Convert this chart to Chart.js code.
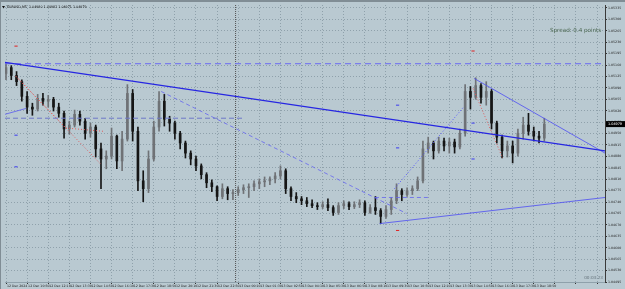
<!DOCTYPE html>
<html>
<head>
<meta charset="utf-8">
<script src="https://cdn.jsdelivr.net/npm/chart.js@4.4.1/dist/chart.umd.min.js"></script>
<style>
html, body { margin: 0; padding: 0; background: #b9c9d1; }
#wrap { width: 625px; height: 289px; }
</style>
</head>
<body>
<div id="wrap"><canvas id="chart" width="625" height="289"></canvas></div>
<script>
// EURUSD candles (20 min groups)
var opens = [1.05134, 1.05152, 1.05128, 1.05109, 1.05064, 1.05031, 1.05025, 1.05058, 1.05049, 1.05055,
    1.05031, 1.05012, 1.04964, 1.04976, 1.05009, 1.04988, 1.04951, 1.04970, 1.04903, 1.04872,
    1.04881, 1.04942, 1.04866, 1.04933, 1.05073, 1.04957, 1.04805, 1.04781, 1.04872, 1.04970,
    1.05049, 1.04994, 1.04982, 1.04951, 1.04921, 1.04890, 1.04872, 1.04851, 1.04824, 1.04799,
    1.04787, 1.04757, 1.04781, 1.04766, 1.04769, 1.04778, 1.04784, 1.04787, 1.04796, 1.04802,
    1.04805, 1.04811, 1.04820, 1.04836, 1.04781, 1.04757, 1.04750, 1.04744, 1.04735, 1.04729,
    1.04726, 1.04732, 1.04723, 1.04708, 1.04729, 1.04735, 1.04726, 1.04732, 1.04738, 1.04708,
    1.04723, 1.04714, 1.04696, 1.04717, 1.04744, 1.04775, 1.04763, 1.04775, 1.04781, 1.04805,
    1.04903, 1.04921, 1.04897, 1.04927, 1.04912, 1.04924, 1.04909, 1.04951, 1.05079, 1.05061,
    1.05097, 1.05061, 1.05079, 1.04982, 1.04939, 1.04897, 1.04912, 1.04890, 1.04951, 1.04976,
    1.04957, 1.04942, 1.04936];
var highs = [1.05167, 1.05158, 1.05140, 1.05115, 1.05079, 1.05043, 1.05070, 1.05073, 1.05067, 1.05061,
    1.05043, 1.05019, 1.04988, 1.05022, 1.05019, 1.04997, 1.04982, 1.04976, 1.04921, 1.04897,
    1.04967, 1.04945, 1.04957, 1.05100, 1.05085, 1.04970, 1.04836, 1.04897, 1.04988, 1.05079,
    1.05070, 1.05003, 1.04988, 1.04957, 1.04927, 1.04897, 1.04881, 1.04857, 1.04830, 1.04808,
    1.04790, 1.04796, 1.04787, 1.04778, 1.04787, 1.04793, 1.04796, 1.04805, 1.04811, 1.04817,
    1.04817, 1.04830, 1.04851, 1.04842, 1.04787, 1.04769, 1.04757, 1.04754, 1.04747, 1.04738,
    1.04741, 1.04750, 1.04729, 1.04738, 1.04744, 1.04741, 1.04741, 1.04747, 1.04744, 1.04732,
    1.04757, 1.04720, 1.04729, 1.04754, 1.04796, 1.04781, 1.04784, 1.04790, 1.04817, 1.04927,
    1.04939, 1.04927, 1.04939, 1.04936, 1.04936, 1.04933, 1.04964, 1.05100, 1.05094, 1.05121,
    1.05103, 1.05109, 1.05085, 1.04988, 1.04945, 1.04927, 1.04927, 1.04964, 1.05000, 1.05012,
    1.04970, 1.04957, 1.04997];
var lows = [1.05115, 1.05115, 1.05097, 1.05049, 1.05012, 1.05006, 1.05019, 1.05037, 1.05031, 1.05019,
    1.05000, 1.04936, 1.04948, 1.04970, 1.04976, 1.04933, 1.04939, 1.04878, 1.04781, 1.04842,
    1.04872, 1.04842, 1.04836, 1.04927, 1.04927, 1.04775, 1.04741, 1.04769, 1.04866, 1.04957,
    1.04973, 1.04957, 1.04933, 1.04903, 1.04875, 1.04854, 1.04836, 1.04811, 1.04784, 1.04772,
    1.04744, 1.04750, 1.04747, 1.04747, 1.04760, 1.04766, 1.04754, 1.04775, 1.04781, 1.04787,
    1.04793, 1.04799, 1.04811, 1.04766, 1.04744, 1.04738, 1.04732, 1.04726, 1.04723, 1.04717,
    1.04720, 1.04714, 1.04699, 1.04702, 1.04720, 1.04717, 1.04720, 1.04723, 1.04699, 1.04705,
    1.04702, 1.04674, 1.04690, 1.04702, 1.04735, 1.04744, 1.04757, 1.04763, 1.04775, 1.04799,
    1.04890, 1.04872, 1.04890, 1.04897, 1.04890, 1.04890, 1.04903, 1.04942, 1.05025, 1.05055,
    1.05043, 1.05037, 1.04964, 1.04921, 1.04875, 1.04878, 1.04860, 1.04881, 1.04933, 1.04945,
    1.04927, 1.04921, 1.04927];
var closes = [1.05152, 1.05128, 1.05109, 1.05064, 1.05031, 1.05025, 1.05058, 1.05049, 1.05055, 1.05031,
    1.05012, 1.04964, 1.04976, 1.05009, 1.04988, 1.04951, 1.04970, 1.04903, 1.04872, 1.04881,
    1.04942, 1.04866, 1.04933, 1.05073, 1.04957, 1.04805, 1.04781, 1.04872, 1.04970, 1.05049,
    1.04994, 1.04982, 1.04951, 1.04921, 1.04890, 1.04872, 1.04851, 1.04824, 1.04799, 1.04787,
    1.04757, 1.04781, 1.04766, 1.04769, 1.04778, 1.04784, 1.04787, 1.04796, 1.04802, 1.04805,
    1.04811, 1.04820, 1.04836, 1.04781, 1.04757, 1.04750, 1.04744, 1.04735, 1.04729, 1.04726,
    1.04732, 1.04723, 1.04708, 1.04729, 1.04735, 1.04726, 1.04732, 1.04738, 1.04708, 1.04723,
    1.04714, 1.04696, 1.04717, 1.04744, 1.04775, 1.04763, 1.04775, 1.04781, 1.04805, 1.04903,
    1.04921, 1.04897, 1.04927, 1.04912, 1.04924, 1.04909, 1.04951, 1.05079, 1.05061, 1.05097,
    1.05061, 1.05079, 1.04982, 1.04939, 1.04897, 1.04912, 1.04890, 1.04951, 1.04976, 1.04957,
    1.04942, 1.04936, 1.04979];

// axis labels
var timeLabels = ['12 Dec 2024', '12 Dec 10:50', '12 Dec 12:10', '12 Dec 13:30', '12 Dec 14:50', '12 Dec 16:10',
    '12 Dec 17:30', '12 Dec 18:50', '12 Dec 20:10', '12 Dec 21:30', '12 Dec 22:50', '13 Dec 00:10',
    '13 Dec 01:30', '13 Dec 02:50', '13 Dec 04:10', '13 Dec 05:30', '13 Dec 06:50', '13 Dec 08:10',
    '13 Dec 09:30', '13 Dec 10:50', '13 Dec 12:10', '13 Dec 13:30', '13 Dec 14:50', '13 Dec 16:10',
    '13 Dec 17:30', '13 Dec 18:50'];
var timeTickIdx = [0, 4, 8, 12, 16, 20, 24, 28, 32, 36, 40, 44, 48, 52, 56, 60, 64, 68, 72, 76, 80, 84, 88, 92, 96, 100, 104, 108, 112];
var priceTicks = [1.04495, 1.04530, 1.04565, 1.04600, 1.04635, 1.04670, 1.04705, 1.04740, 1.04775, 1.04810,
    1.04845, 1.04880, 1.04915, 1.04950, 1.04985, 1.05020, 1.05055, 1.05090, 1.05125, 1.05160,
    1.05195, 1.05230, 1.05265, 1.05300, 1.05335];

// drawn objects (bar index, price)
var thickTrend = [{x: -0.19, y: 1.05168}, {x: 113.5, y: 1.04897}];
var resistDash = [{x: -0.19, y: 1.05164}, {x: 113.5, y: 1.05164}];
var midDash = [{x: -0.19, y: 1.04997}, {x: 45.2, y: 1.04997}];
var upperThin = [{x: 88.7, y: 1.05119}, {x: 113.5, y: 1.04890}];
var lowerThin = [{x: 70.8, y: 1.04674}, {x: 113.5, y: 1.04754}];
var leftThin = [{x: -0.19, y: 1.05009}, {x: 3.8, y: 1.05027}];
var diagDash = [{x: 29.4, y: 1.05079}, {x: 75.9, y: 1.04705}];
var shortDash = [{x: 69.9, y: 1.04754}, {x: 80.2, y: 1.04754}];
var blueDotted = [{x: 73.6, y: 1.04781}, {x: 86.8, y: 1.05033}];
var redDotted1 = [{x: 1.9, y: 1.05125}, {x: 17.9, y: 1.04857}];
var redDotted2 = [{x: 1.9, y: 1.05125}, {x: 11.3, y: 1.04967}, {x: 18.4, y: 1.04957}];
var redDotted3 = [{x: 88.5, y: 1.05088}, {x: 94.1, y: 1.04875}];
var daySep = [{x: 43.5, y: 1.04495}, {x: 43.5, y: 1.05344}];
var redMarks = [{x: 1.9, y: 1.05218}, {x: 88.5, y: 1.05203}, {x: 74.2, y: 1.04653}];
var blueMarks = [{x: 1.9, y: 1.04945}, {x: 1.9, y: 1.04848}, {x: 74.2, y: 1.05037}, {x: 74.2, y: 1.04906},
    {x: 88.5, y: 1.04982}, {x: 88.5, y: 1.04872}];

var UP_COLOR = '#6f7276', DOWN_COLOR = '#161616';

function candleColor(i) {
    return closes[i] >= opens[i] ? UP_COLOR : DOWN_COLOR;
}

function lineSet(data, color, width, dash) {
    return {
        type: 'line', data: data, borderColor: color, borderWidth: width,
        borderDash: dash || [], pointRadius: 0, tension: 0, fill: false, order: 0
    };
}

function markSet(data, color) {
    return {
        type: 'line', data: data, showLine: false, pointStyle: 'line', pointRadius: 1.6,
        borderColor: color, borderWidth: 1, order: 0
    };
}

// background, frame and texts
var decorPlugin = {
    id: 'decor',
    beforeDraw: function (chart) {
        var ctx = chart.ctx;
        ctx.save();
        ctx.fillStyle = '#b9c9d1';
        ctx.fillRect(0, 0, chart.width, chart.height);
        ctx.fillStyle = '#808d95';
        ctx.fillRect(0, 0, chart.width, 2);
        ctx.fillRect(0, 0, 1, chart.height);
        ctx.restore();
    },
    afterDraw: function (chart) {
        var ctx = chart.ctx;
        var y = chart.scales.y.getPixelForValue(closes[closes.length - 1]);
        ctx.save();
        // current price box
        ctx.fillStyle = '#000';
        ctx.fillRect(606, y - 3, 19, 6);
        ctx.fillStyle = '#fff';
        ctx.font = '3.4px "DejaVu Sans"';
        ctx.textBaseline = 'middle';
        ctx.fillText(closes[closes.length - 1].toFixed(5), 608, y);
        // title
        ctx.fillStyle = '#111';
        ctx.beginPath();
        ctx.moveTo(2, 6); ctx.lineTo(5, 6); ctx.lineTo(3.5, 8.5); ctx.closePath(); ctx.fill();
        ctx.font = '3.3px "DejaVu Sans"';
        ctx.textBaseline = 'middle';
        ctx.fillText('EURUSD,M5  1.04980 1.04982 1.04971 1.04979', 7, 7);
        // spread
        ctx.fillStyle = '#4f6b55';
        ctx.font = '5.6px "DejaVu Sans"';
        ctx.fillText('Spread: 0.4 points', 550, 31);
        // timer
        ctx.fillStyle = '#66747c';
        ctx.font = '4.2px "DejaVu Sans"';
        ctx.textAlign = 'right';
        ctx.fillText('00:03:23', 603, 278);
        ctx.restore();
    }
};

var candleIdx = closes.map(function (c, i) { return i; });

new Chart(document.getElementById('chart'), {
    type: 'bar',
    data: {
        datasets: [
            lineSet(thickTrend, '#2626e2', 1.3),
            lineSet(resistDash, '#6a6af2', 1, [6, 4]),
            lineSet(midDash, '#6f78c8', 1, [5, 3]),
            lineSet(upperThin, '#4c4cf4', 0.8),
            lineSet(lowerThin, '#4c4cf4', 0.8),
            lineSet(leftThin, '#5a5af0', 0.8),
            lineSet(diagDash, '#6464f0', 0.8, [4, 3]),
            lineSet(shortDash, '#6464f0', 0.8, [4, 3]),
            lineSet(blueDotted, '#5555ff', 1, [1, 2]),
            lineSet(redDotted1, '#e05a5a', 1, [1, 2]),
            lineSet(redDotted2, '#e05a5a', 1, [1, 2]),
            lineSet(redDotted3, '#e05a5a', 1, [1, 2]),
            lineSet(daySep, '#505050', 1, [1, 1]),
            markSet(redMarks, '#e02020'),
            markSet(blueMarks, '#3b3bf0'),
            {
                type: 'bar', order: 1, grouped: false, barThickness: 1,
                data: candleIdx.map(function (i) { return {x: i, y: [lows[i], highs[i]]}; }),
                backgroundColor: candleIdx.map(candleColor)
            },
            {
                type: 'bar', order: 1, grouped: false, barThickness: 2, minBarLength: 1,
                data: candleIdx.map(function (i) { return {x: i, y: [opens[i], closes[i]]}; }),
                backgroundColor: candleIdx.map(candleColor)
            }
        ]
    },
    options: {
        responsive: false,
        animation: false,
        layout: {padding: {top: 3, left: 1, right: 0, bottom: 0}},
        plugins: {legend: {display: false}, tooltip: {enabled: false}},
        scales: {
            x: {
                type: 'linear', min: -0.19, max: 113.5, offset: false,
                grid: {offset: false, color: '#8fa1ab', tickLength: 2, tickColor: '#333'},
                border: {display: true, color: '#8fa1ab', dash: [1, 2]},
                afterFit: function (scale) { scale.height = 7; },
                afterBuildTicks: function (scale) {
                    scale.ticks = timeTickIdx.map(function (v) { return {value: v}; });
                },
                ticks: {
                    autoSkip: false, maxRotation: 0, align: 'start', padding: 0, labelOffset: 1,
                    color: '#222', font: {family: 'DejaVu Sans', size: 3.2},
                    callback: function (value, index) { return timeLabels[index] || ''; }
                }
            },
            y: {
                position: 'right', min: 1.04495, max: 1.05344, beginAtZero: false,
                grid: {color: '#8fa1ab', tickLength: 2, tickColor: '#333'},
                border: {display: true, color: '#3a3a3a', width: 1, dash: [1, 2]},
                afterFit: function (scale) { scale.width = 20; },
                afterBuildTicks: function (scale) {
                    scale.ticks = priceTicks.map(function (v) { return {value: v}; });
                },
                ticks: {
                    padding: 1, color: '#222', font: {family: 'DejaVu Sans', size: 3.2},
                    callback: function (value) { return value.toFixed(5); }
                }
            }
        }
    },
    plugins: [decorPlugin]
});
</script>
</body>
</html>
